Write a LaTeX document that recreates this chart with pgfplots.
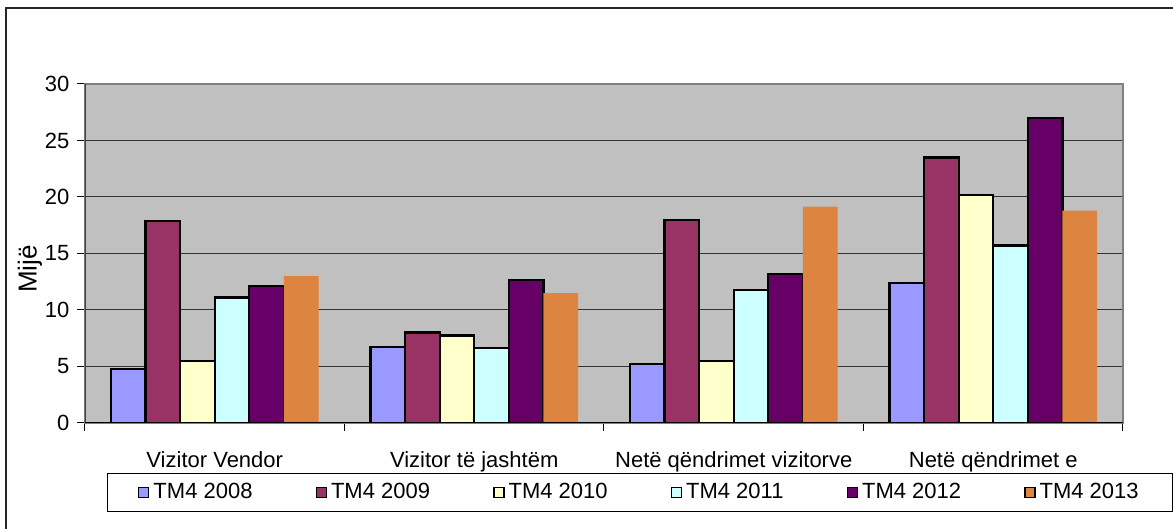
\documentclass[border=0pt]{standalone}
\usepackage{pgfplots}
\pgfplotsset{compat=1.18}
\usepackage{fontspec}
\setmainfont{Liberation Sans}

\definecolor{c08}{HTML}{9999FF}
\definecolor{c09}{HTML}{993366}
\definecolor{c10}{HTML}{FFFFCC}
\definecolor{c11}{HTML}{CCFFFF}
\definecolor{c12}{HTML}{660066}
\definecolor{c13}{HTML}{DC8440}
\definecolor{plotbg}{HTML}{C0C0C0}
\definecolor{frame}{HTML}{808080}

\begin{document}
\fontsize{11}{13}\selectfont
\begin{tikzpicture}
\useasboundingbox (0,0) rectangle (586.5pt,264.5pt);
\draw[black!85, line width=0.6pt] (3pt,0) -- (3pt,260.5pt) -- (586.5pt,260.5pt);
\begin{axis}[
    at={(42.5pt,53pt)}, anchor=south west,
    scale only axis, width=519pt, height=169.5pt,
    ybar=0pt, bar width=17.3pt,
    every axis plot/.append style={
        legend image code/.code={\draw[#1, line width=0.75pt] (0pt,-2.5pt) rectangle (5pt,2.5pt);}},
    xmin=-0.5, xmax=3.5, ymin=0, ymax=30,
    ytick={0,5,...,30},
    xtick={-0.5,0.5,1.5,2.5,3.5}, xticklabels={},
    xtick pos=bottom, ytick pos=left,
    extra x ticks={0,1,2,3},
    extra x tick labels={Vizitor Vendor, Vizitor të jashtëm, Netë qëndrimet vizitorve, Netë qëndrimet e},
    extra x tick style={major tick length=0pt, xticklabel style={yshift=-10.5pt}},
    ymajorgrids, grid style={black!80, line width=0.5pt},
    axis background/.style={fill=plotbg},
    axis line style={draw=frame, line width=1pt},
    tick style={black, line width=0.5pt}, tick align=outside,
    major tick length=4pt,
    font=\fontsize{11}{13}\selectfont,
    /pgf/number format/assume math mode=true,
    ylabel={Mijë},
    ylabel style={at={(axis description cs:-0.053,0.454)}, anchor=center,
        font=\fontsize{13}{15}\selectfont},
    legend columns=6,
    legend style={at={(axis description cs:0.535,-0.205)}, anchor=center,
        draw=black, line width=0.5pt, fill=white, inner xsep=15pt, inner ysep=3pt,
        font=\fontsize{11}{13}\selectfont,
        /tikz/every even column/.append style={column sep=29.5pt}},
]
\addplot[fill=c08, draw=black, line width=1.1pt] coordinates {(0,4.75) (1,6.7) (2,5.2) (3,12.4)};
\addplot[fill=c09, draw=black, line width=1.1pt] coordinates {(0,17.9) (1,8.0) (2,17.95) (3,23.5)};
\addplot[fill=c10, draw=black, line width=1.1pt] coordinates {(0,5.5) (1,7.75) (2,5.5) (3,20.15)};
\addplot[fill=c11, draw=black, line width=1.1pt] coordinates {(0,11.1) (1,6.65) (2,11.8) (3,15.7)};
\addplot[fill=c12, draw=black, line width=1.1pt] coordinates {(0,12.1) (1,12.65) (2,13.2) (3,27.0)};
\addplot[fill=c13, draw=none] coordinates {(0,13.0) (1,11.5) (2,19.15) (3,18.8)};
\addlegendentry{TM4 2008}
\addlegendentry{TM4 2009}
\addlegendentry{TM4 2010}
\addlegendentry{TM4 2011}
\addlegendentry{TM4 2012}
\addlegendentry{TM4 2013}
\draw[black!75, line width=1pt] (axis cs:-0.5,0) -- (axis cs:-0.5,30);
\draw[black, line width=0.75pt] (axis cs:-0.5,0) -- (axis cs:3.5,0);
\end{axis}
\end{tikzpicture}
\end{document}
